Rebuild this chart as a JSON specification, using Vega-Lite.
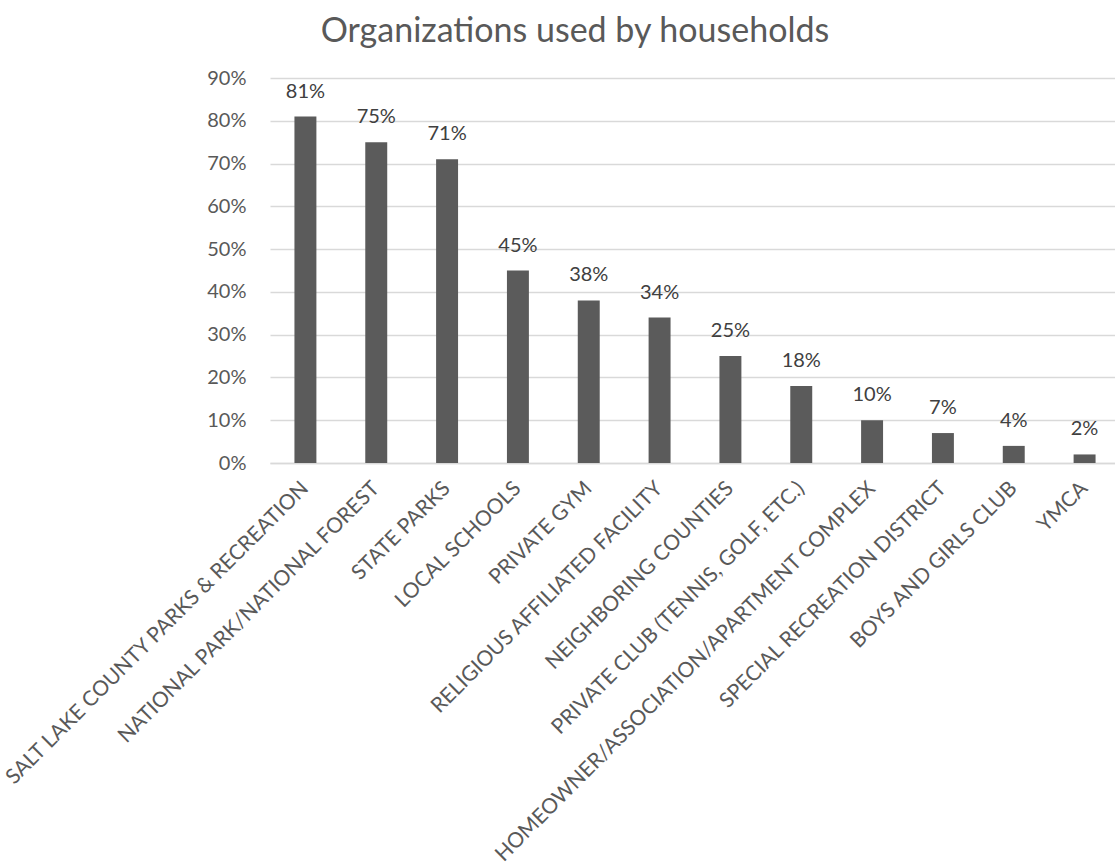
{
  "$schema": "https://vega.github.io/schema/vega-lite/v6.json",
  "autosize": "none",
  "width": 850,
  "height": 385,
  "padding": {"left": 270, "top": 78, "right": 0, "bottom": 402},
  "background": "white",
  "title": {
    "text": "Organizations used by households",
    "anchor": "middle",
    "dx": -120,
    "offset": 19,
    "font": "Lato",
    "fontSize": 34,
    "fontWeight": "normal",
    "color": "#595959"
  },
  "data": {
    "values": [
      {"org": "SALT LAKE COUNTY PARKS & RECREATION", "pct": 0.81},
      {"org": "NATIONAL PARK/NATIONAL FOREST", "pct": 0.75},
      {"org": "STATE PARKS", "pct": 0.71},
      {"org": "LOCAL SCHOOLS", "pct": 0.45},
      {"org": "PRIVATE GYM", "pct": 0.38},
      {"org": "RELIGIOUS AFFILIATED FACILITY", "pct": 0.34},
      {"org": "NEIGHBORING COUNTIES", "pct": 0.25},
      {"org": "PRIVATE CLUB  (TENNIS, GOLF, ETC.)", "pct": 0.18},
      {"org": "HOMEOWNER/ASSOCIATION/APARTMENT COMPLEX", "pct": 0.10},
      {"org": "SPECIAL RECREATION DISTRICT", "pct": 0.07},
      {"org": "BOYS AND GIRLS CLUB", "pct": 0.04},
      {"org": "YMCA", "pct": 0.02}
    ]
  },
  "encoding": {
    "x": {
      "field": "org",
      "type": "nominal",
      "sort": null,
      "title": null,
      "scale": {"paddingInner": 0.69, "paddingOuter": 0.345},
      "axis": {
        "labelAngle": -45,
        "labelAlign": "right",
        "labelBaseline": "middle",
        "labelPadding": 22,
        "labelFont": "Lato",
        "labelFontSize": 21,
        "labelColor": "#595959",
        "labelLimit": 0,
        "ticks": false,
        "domainColor": "#d9d9d9",
        "domainWidth": 1.3,
        "grid": false
      }
    },
    "y": {
      "field": "pct",
      "type": "quantitative",
      "title": null,
      "scale": {"domain": [0, 0.9], "nice": false},
      "axis": {
        "values": [0, 0.1, 0.2, 0.3, 0.4, 0.5, 0.6, 0.7, 0.8, 0.9],
        "format": ".0%",
        "domain": false,
        "ticks": false,
        "labelPadding": 24,
        "labelFont": "Lato",
        "labelFontSize": 20,
        "labelColor": "#595959",
        "gridColor": "#d9d9d9",
        "gridWidth": 1.3
      }
    }
  },
  "layer": [
    {"mark": {"type": "bar", "color": "#5b5b5b"}},
    {
      "mark": {
        "type": "text",
        "baseline": "alphabetic",
        "dy": -19,
        "font": "Lato",
        "fontSize": 20,
        "color": "#404040"
      },
      "encoding": {"text": {"field": "pct", "type": "quantitative", "format": ".0%"}}
    }
  ],
  "config": {"view": {"stroke": null}}
}
